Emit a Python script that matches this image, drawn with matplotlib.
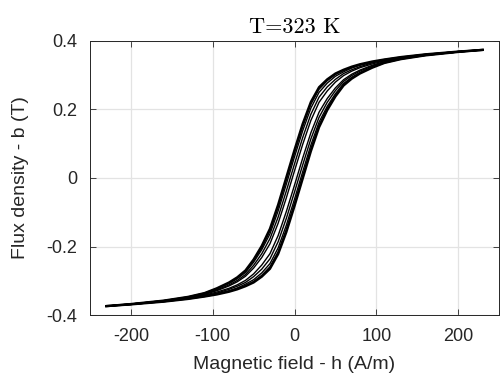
import matplotlib
matplotlib.use("Agg")
import matplotlib.pyplot as plt

# field grid (A/m)
h = [-230, -200, -160, -130, -110, -95, -80, -70, -60, -50, -40, -30, -20, -10, 0,
     10, 20, 30, 40, 50, 60, 70, 80, 95, 110, 130, 160, 200, 230]

# outer loop
b_desc_1 = [-0.374, -0.368, -0.358, -0.347, -0.336, -0.322, -0.305, -0.290, -0.270, -0.238,
            -0.198, -0.148, -0.078, 0.002, 0.082, 0.158, 0.222, 0.265, 0.288, 0.305,
            0.316, 0.325, 0.332, 0.340, 0.346, 0.353, 0.361, 0.369, 0.374]
b_asc_1 = [-0.374, -0.369, -0.361, -0.353, -0.346, -0.340, -0.332, -0.325, -0.316, -0.305,
           -0.288, -0.265, -0.222, -0.158, -0.082, -0.002, 0.078, 0.148, 0.198, 0.238,
           0.270, 0.290, 0.305, 0.322, 0.336, 0.347, 0.358, 0.368, 0.374]

# inner loops
b_desc_2 = [-0.374, -0.368, -0.358, -0.347, -0.336, -0.323, -0.306, -0.292, -0.272, -0.241,
            -0.203, -0.154, -0.085, -0.006, 0.074, 0.150, 0.215, 0.259, 0.284, 0.302,
            0.314, 0.323, 0.331, 0.339, 0.346, 0.353, 0.361, 0.369, 0.374]
b_asc_2 = [-0.374, -0.369, -0.361, -0.353, -0.346, -0.339, -0.331, -0.323, -0.314, -0.302,
           -0.284, -0.259, -0.215, -0.150, -0.074, 0.006, 0.085, 0.154, 0.203, 0.241,
           0.272, 0.292, 0.306, 0.323, 0.336, 0.347, 0.358, 0.368, 0.374]

b_desc_3 = [-0.374, -0.368, -0.358, -0.348, -0.337, -0.324, -0.308, -0.294, -0.276, -0.246,
            -0.209, -0.163, -0.096, -0.018, 0.062, 0.138, 0.204, 0.250, 0.277, 0.297,
            0.310, 0.321, 0.329, 0.338, 0.345, 0.352, 0.361, 0.369, 0.374]
b_asc_3 = [-0.374, -0.369, -0.361, -0.352, -0.345, -0.338, -0.329, -0.321, -0.310, -0.297,
           -0.277, -0.250, -0.204, -0.138, -0.062, 0.018, 0.096, 0.163, 0.209, 0.246,
           0.276, 0.294, 0.308, 0.324, 0.337, 0.348, 0.358, 0.368, 0.374]

b_desc_4 = [-0.374, -0.368, -0.359, -0.349, -0.339, -0.327, -0.312, -0.299, -0.282, -0.255,
            -0.221, -0.177, -0.114, -0.038, 0.041, 0.118, 0.186, 0.236, 0.266, 0.288,
            0.305, 0.316, 0.325, 0.336, 0.344, 0.352, 0.360, 0.369, 0.374]
b_asc_4 = [-0.374, -0.369, -0.360, -0.352, -0.344, -0.336, -0.325, -0.316, -0.305, -0.288,
           -0.266, -0.236, -0.186, -0.118, -0.041, 0.038, 0.114, 0.177, 0.221, 0.255,
           0.282, 0.299, 0.312, 0.327, 0.339, 0.349, 0.359, 0.368, 0.374]

b_desc_5 = [-0.374, -0.368, -0.359, -0.349, -0.340, -0.329, -0.315, -0.303, -0.287, -0.263,
            -0.232, -0.192, -0.132, -0.058, 0.021, 0.098, 0.168, 0.221, 0.254, 0.280,
            0.299, 0.312, 0.322, 0.333, 0.342, 0.351, 0.360, 0.369, 0.374]
b_asc_5 = [-0.374, -0.369, -0.360, -0.351, -0.342, -0.333, -0.322, -0.312, -0.299, -0.280,
           -0.254, -0.221, -0.168, -0.098, -0.021, 0.058, 0.132, 0.192, 0.232, 0.263,
           0.287, 0.303, 0.315, 0.329, 0.340, 0.349, 0.359, 0.368, 0.374]

x_ticks = [-200, -100, 0, 100, 200]
y_ticks = [-0.4, -0.2, 0, 0.2, 0.4]
y_ticklabels = ["-0.4", "-0.2", "0", "0.2", "0.4"]
x_ticklabels = ["-200", "-100", "0", "100", "200"]

plt.rcParams['font.family'] = ['Liberation Sans', 'DejaVu Sans']

fig = plt.figure(figsize=(5, 3.83), dpi=100)
ax = fig.add_axes([0.18, 0.1775, 0.818, 0.7155])

loops = [(b_desc_1, b_asc_1, 1.7), (b_desc_2, b_asc_2, 1.0),
         (b_desc_3, b_asc_3, 1.0), (b_desc_4, b_asc_4, 1.0), (b_desc_5, b_asc_5, 1.0)]
for b_d, b_a, lw in loops:
    ax.plot(h, b_d, color='black', linewidth=lw)
    ax.plot(h, b_a, color='black', linewidth=lw)

ax.set_xlim(-250, 250)
ax.set_ylim(-0.4, 0.4)
ax.set_xticks(x_ticks)
ax.set_xticklabels(x_ticklabels)
ax.set_yticks(y_ticks)
ax.set_yticklabels(y_ticklabels)
ax.grid(True, color='#e3e3e3', linewidth=0.9)
ax.set_axisbelow(True)
ax.tick_params(direction='in', length=4, width=0.6, top=True, right=True,
               labelsize=13, colors='#262626', pad=9)
for s in ax.spines.values():
    s.set_color('#262626')
    s.set_linewidth(0.7)

ax.set_xlabel("Magnetic field - h (A/m)", fontsize=14, color='#262626')
ax.set_ylabel("Flux density - b (T)", fontsize=14, color='#262626')
ax.xaxis.set_label_coords(0.5, -0.15)
ax.yaxis.set_label_coords(-0.148, 0.5)
ax.set_title("T=323 K", fontname='cmr10', fontsize=16, pad=6)

fig.savefig("out.png", dpi=100)
